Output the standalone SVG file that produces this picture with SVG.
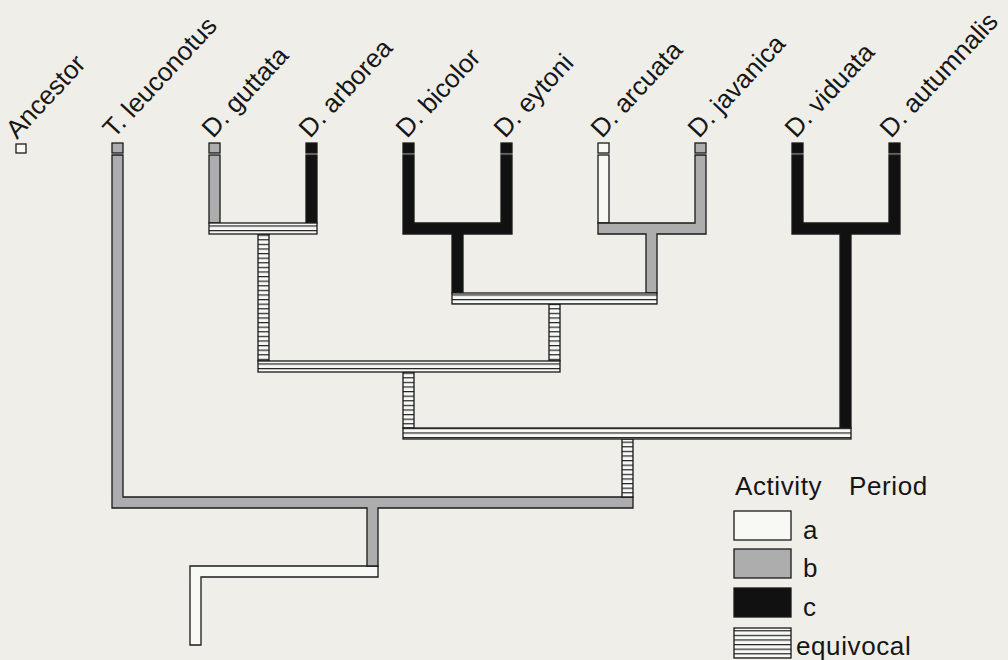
<svg xmlns="http://www.w3.org/2000/svg" width="1008" height="660" viewBox="0 0 1008 660">
<defs>
<style>
.lbl{font-family:"Liberation Sans",Arial,Helvetica,sans-serif;font-size:26px;fill:#161616}
.leg{font-family:"Liberation Sans",Arial,Helvetica,sans-serif;font-size:26px;fill:#161616;letter-spacing:0.6px}
.o{stroke:#1a1a1a;stroke-width:1.3;stroke-linejoin:miter}
.w{fill:#f8f8f4}
.g{fill:#adadad}
.k{fill:#111111}
.e{fill:url(#eq)}
</style>
<pattern id="eq" patternUnits="userSpaceOnUse" width="8" height="4.6">
<rect width="8" height="4.6" fill="#f8f8f4"/>
<rect y="0" width="8" height="1.2" fill="#222"/>
</pattern>
</defs>
<rect width="1008" height="660" fill="#efeee8"/>

<g id="nodes">
<g id="ancestor"><rect class="w o" x="16" y="144" width="10" height="9"/><text class="lbl" x="17" y="140" transform="rotate(-47 17 140)">Ancestor</text></g>
<g id="t-leuconotus"><rect class="g o" x="112" y="143" width="11" height="10"/><text class="lbl" x="114" y="139" transform="rotate(-47 114 139)">T. leuconotus</text></g>
<g id="d-guttata"><rect class="g o" x="209" y="143" width="11" height="10"/><text class="lbl" x="213" y="139" transform="rotate(-47 213 139)">D. guttata</text></g>
<g id="d-arborea"><rect class="k o" x="306" y="143" width="11" height="10"/><text class="lbl" x="310" y="139" transform="rotate(-47 310 139)">D. arborea</text></g>
<g id="d-bicolor"><rect class="k o" x="403" y="143" width="11" height="10"/><text class="lbl" x="407" y="139" transform="rotate(-47 407 139)">D. bicolor</text></g>
<g id="d-eytoni"><rect class="k o" x="501" y="143" width="11" height="10"/><text class="lbl" x="505" y="139" transform="rotate(-47 505 139)">D. eytoni</text></g>
<g id="d-arcuata"><rect class="w o" x="598" y="143" width="11" height="10"/><text class="lbl" x="602" y="139" transform="rotate(-47 602 139)">D. arcuata</text></g>
<g id="d-javanica"><rect class="g o" x="695" y="143" width="11" height="10"/><text class="lbl" x="699" y="139" transform="rotate(-47 699 139)">D. javanica</text></g>
<g id="d-viduata"><rect class="k o" x="792" y="143" width="11" height="10"/><text class="lbl" x="796" y="139" transform="rotate(-47 796 139)">D. viduata</text></g>
<g id="d-autumnalis"><rect class="k o" x="889" y="143" width="11" height="10"/><text class="lbl" x="891" y="139" transform="rotate(-47 891 139)">D. autumnalis</text></g>
</g>

<g id="connectors">
<!-- root -->
<path class="w o" d="M190,566 H378 V577 H201 V645 H190 Z"/>
<!-- gray basal: T. leuconotus + backbone -->
<path class="g o" d="M112,155 H123 V497 H633 V508 H378 V566 H367 V508 H112 Z"/>
<!-- guttata / arborea -->
<rect class="g o" x="209" y="155" width="11" height="68"/>
<rect class="k o" x="306" y="155" width="11" height="68"/>
<rect class="e o" x="258" y="234" width="11" height="127"/>
<rect class="e o" x="209" y="223" width="108" height="11"/>
<!-- bicolor / eytoni -->
<path class="k o" d="M403,155 H414 V223 H501 V155 H512 V234 H463 V293 H452 V234 H403 Z"/>
<!-- arcuata / javanica -->
<rect class="w o" x="598" y="155" width="11" height="68"/>
<path class="g o" d="M695,155 H706 V234 H657 V293 H646 V234 H598 V223 H695 Z"/>
<!-- viduata / autumnalis -->
<path class="k o" d="M792,155 H803 V223 H889 V155 H900 V234 H851 V428 H840 V234 H792 Z"/>
<!-- internal equivocal -->
<rect class="e o" x="549" y="304" width="11" height="57"/>
<rect class="e o" x="452" y="293" width="205" height="11"/>
<rect class="e o" x="403" y="372" width="11" height="56"/>
<rect class="e o" x="258" y="361" width="302" height="11"/>
<rect class="e o" x="622" y="439" width="11" height="58"/>
<rect class="e o" x="403" y="428" width="448" height="11"/>
</g>

<g id="legend">
<text class="leg" x="735" y="495">Activity</text>
<text class="leg" x="849" y="495">Period</text>
<rect class="w o" x="734" y="511" width="57" height="29"/>
<text class="leg" x="803" y="539">a</text>
<rect class="g o" x="734" y="549" width="57" height="29"/>
<text class="leg" x="803" y="577">b</text>
<rect class="k o" x="734" y="588" width="57" height="29"/>
<text class="leg" x="803" y="616">c</text>
<rect class="e o" x="734" y="628" width="57" height="30"/>
<text class="leg" x="796" y="655">equivocal</text>
</g>
</svg>
